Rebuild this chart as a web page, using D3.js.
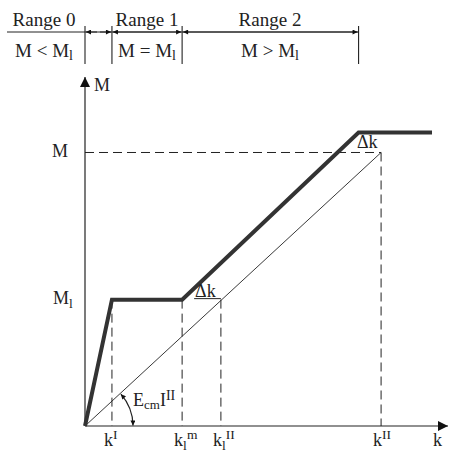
<!DOCTYPE html>
<html><head><meta charset="utf-8">
<script src="https://cdn.jsdelivr.net/npm/d3@7"></script>
<style>body{margin:0;background:#fff}svg{display:block}svg text{font-family:"Times New Roman",Times,"Liberation Serif","DejaVu Serif",serif}</style>
</head><body><svg id="c" width="449" height="452"></svg>
<script>
// data (abstract units)
const kMarks = {kI:0.91, klm:3.28, klII:4.59, kII:10.0};
const kLabels = [
  {k:0.91, base:"k", sub:"", sup:"I"},
  {k:3.28, base:"k", sub:"l", sup:"m"},
  {k:4.59, base:"k", sub:"l", sup:"II"},
  {k:10.0, base:"k", sub:"", sup:"II"}
];
const Ml = 4.62, Mmax = 10.0;
const thickK = [0, 0.91, 3.28, 9.24, 11.72];
const thickM = [0, 4.62, 4.62, 10.73, 10.73];
const thinK = [0, 10.0];
const thinM = [0, 10.0];
const ranges = [
  {from:0, to:0.91, top:"Range 0", bottom:["M < M","l"], tx:44},
  {from:0.91, to:3.28, top:"Range 1", bottom:["M = M","l"], tx:147},
  {from:3.28, to:9.24, top:"Range 2", bottom:["M > M","l"], tx:270}
];

const svg = d3.select("#c");
const x = d3.scaleLinear().domain([0, 12.26]).range([85, 448]);
const y = d3.scaleLinear().domain([0, 12.76]).range([426, 77]);
const ink = "#222";

const defs = svg.append("defs");
defs.append("marker").attr("id","big").attr("viewBox","0 0 10 10").attr("refX",10).attr("refY",5)
  .attr("markerWidth",10).attr("markerHeight",10).attr("markerUnits","userSpaceOnUse").attr("orient","auto")
  .append("path").attr("d","M0,0L10,5L0,10Z").attr("fill","#111");
defs.append("marker").attr("id","sm").attr("viewBox","0 0 10 10").attr("refX",10).attr("refY",5)
  .attr("markerWidth",6).attr("markerHeight",5).attr("markerUnits","userSpaceOnUse").attr("orient","auto-start-reverse")
  .append("path").attr("d","M0,0L10,5L0,10Z").attr("fill","#111");

// axes
svg.append("line").attr("x1",x(0)).attr("y1",y(0)).attr("x2",x(12.26)).attr("y2",y(0))
  .attr("stroke",ink).attr("stroke-width",1.2).attr("marker-end","url(#big)");
svg.append("line").attr("x1",x(0)).attr("y1",y(0)).attr("x2",x(0)).attr("y2",y(12.76))
  .attr("stroke",ink).attr("stroke-width",1.2).attr("marker-end","url(#big)");

// dashed guides
const dash = "9,5";
[kMarks.kI, kMarks.klm, kMarks.klII].forEach(k=>{
  svg.append("line").attr("x1",x(k)).attr("x2",x(k)).attr("y1",y(Ml)).attr("y2",y(0))
    .attr("stroke",ink).attr("stroke-dasharray",dash).attr("stroke-width",1);
});
svg.append("line").attr("x1",x(kMarks.kII)).attr("x2",x(kMarks.kII)).attr("y1",y(Mmax)).attr("y2",y(0))
  .attr("stroke",ink).attr("stroke-dasharray",dash).attr("stroke-width",1);
svg.append("line").attr("x1",x(0)).attr("x2",x(kMarks.kII)).attr("y1",y(Mmax)).attr("y2",y(Mmax))
  .attr("stroke",ink).attr("stroke-dasharray",dash).attr("stroke-width",1);
svg.append("line").attr("x1",x(kMarks.klm)+12).attr("x2",x(kMarks.klII)).attr("y1",y(Ml)-1).attr("y2",y(Ml)-1)
  .attr("stroke",ink).attr("stroke-width",1);

// thin line
svg.append("path").datum(d3.zip(thinK,thinM)).attr("fill","none").attr("stroke",ink).attr("stroke-width",0.9)
  .attr("d", d3.line().x(d=>x(d[0])).y(d=>y(d[1])));
// thick line
svg.append("path").datum(d3.zip(thickK,thickM)).attr("fill","none").attr("stroke","#333").attr("stroke-width",4)
  .attr("d", d3.line().x(d=>x(d[0])).y(d=>y(d[1])));

// angle arc
const ang = Math.atan2(y(0)-y(thinM[1]), x(thinK[1])-x(0));
const r = 48;
const arc = d3.path();
arc.arc(x(0), y(0), r, -ang+0.02, -0.01, false);
svg.append("path").attr("d", arc.toString()).attr("fill","none").attr("stroke",ink).attr("stroke-width",1.2)
  .attr("marker-start","url(#sm)").attr("marker-end","url(#sm)");

function txt(xx, yy, size){
  return svg.append("text").attr("x",xx).attr("y",yy).attr("font-size",size).attr("fill",ink);
}
function rich(xx, yy, base, sub, sup, size, anchor){
  const t = txt(xx, yy, size).attr("text-anchor",anchor||"start");
  t.append("tspan").text(base);
  if(sub) t.append("tspan").attr("dy",size*0.22).attr("font-size",size*0.75).text(sub);
  if(sup) t.append("tspan").attr("dy",sub?-size*0.62:-size*0.4).attr("font-size",size*0.75).text(sup);
  return t;
}

// E_cm I^II
(function(){
  const t = txt(133, 406, 18);
  t.append("tspan").text("E");
  t.append("tspan").attr("dy",3).attr("font-size",13).text("cm");
  t.append("tspan").attr("dy",-3).text("I");
  t.append("tspan").attr("dy",-6).attr("font-size",14).text("II");
})();

// k labels
kLabels.forEach(d=>{ rich(x(d.k)-8, 446, d.base, d.sub, d.sup, 18); });
txt(433, 446, 18).text("k");

// axis labels
txt(94, 91, 18).text("M");
txt(52, y(Mmax)+5, 18).text("M");
rich(53, y(Ml)+4, "M", "l", "", 18);

// Δk labels
txt(x(kMarks.klm)+13, y(Ml)-3, 18).text("Δk");
txt(357, y(Mmax)-4, 18).text("Δk");

// ranges header
const hy = 32;
svg.append("line").attr("x1",7).attr("x2",x(9.24)).attr("y1",hy).attr("y2",hy).attr("stroke",ink).attr("stroke-width",1);
[0, 0.91, 3.28, 9.24].forEach(k=>{
  svg.append("line").attr("x1",x(k)).attr("x2",x(k)).attr("y1",26).attr("y2",64).attr("stroke",ink).attr("stroke-width",1.1);
});
ranges.forEach((rg,i)=>{
  const a = x(rg.from), b = x(rg.to);
  if(i===0){
    svg.append("line").attr("x1",a+12).attr("x2",a+1).attr("y1",hy).attr("y2",hy).attr("stroke",ink).attr("marker-end","url(#sm)");
    svg.append("line").attr("x1",b-12).attr("x2",b-1).attr("y1",hy).attr("y2",hy).attr("stroke",ink).attr("marker-end","url(#sm)");
  } else {
    svg.append("line").attr("x1",a+1).attr("x2",b-1).attr("y1",hy).attr("y2",hy).attr("stroke",ink)
      .attr("marker-start","url(#sm)").attr("marker-end","url(#sm)");
  }
  txt(rg.tx, 26, 19).attr("text-anchor","middle").text(rg.top);
  const t = txt(rg.tx, 57, 19).attr("text-anchor","middle");
  t.append("tspan").text(rg.bottom[0]);
  t.append("tspan").attr("dy",3).attr("font-size",14).text(rg.bottom[1]);
});
</script></body></html>
